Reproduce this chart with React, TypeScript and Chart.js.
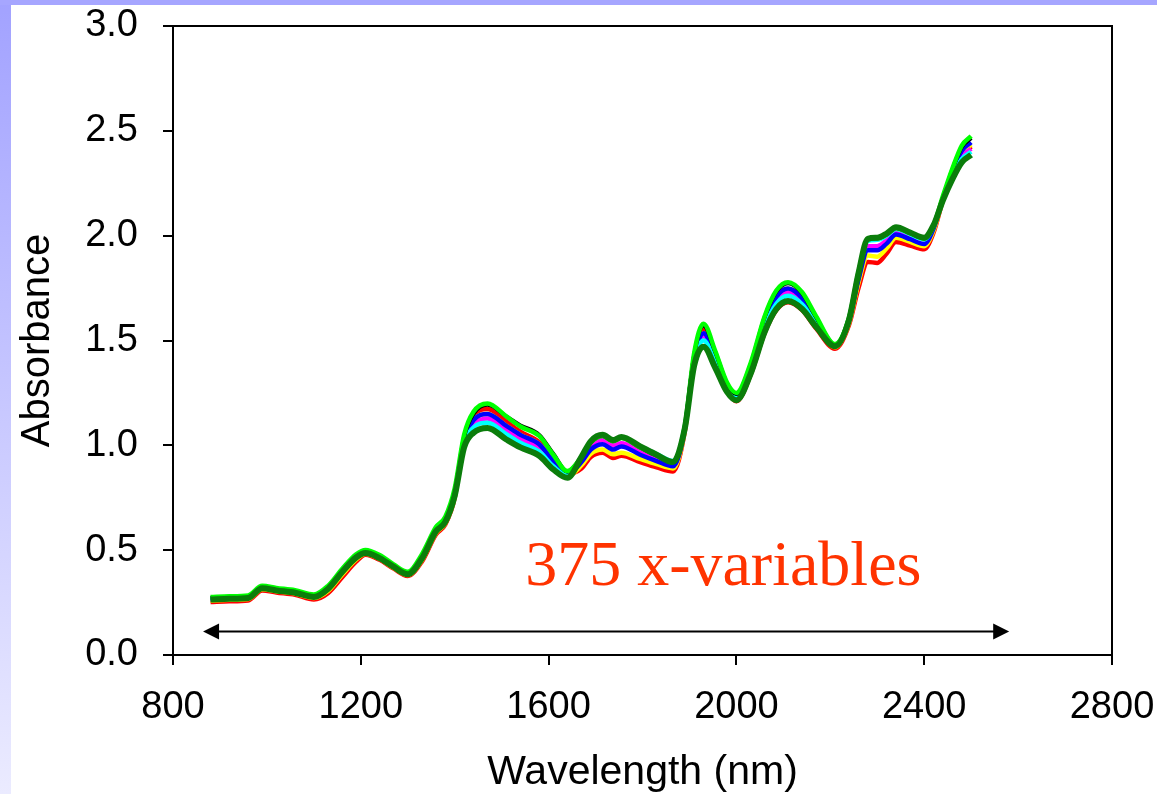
import React, { useEffect, useRef } from "react";
import { Chart, registerables } from "chart.js";

Chart.register(...registerables);

// ---- data -----------------------------------------------------------------
const WAVELENGTHS = [
  880, 920, 960, 990, 1020, 1060, 1100, 1130, 1160, 1190,
  1210, 1240, 1270, 1300, 1330, 1360, 1380, 1400, 1420, 1440,
  1470, 1510, 1540, 1580, 1610, 1640, 1670, 1690, 1715, 1737,
  1755, 1795, 1830, 1865, 1890, 1910, 1930, 1955, 1980, 2000,
  2030, 2060, 2085, 2110, 2140, 2170, 2210, 2240, 2260, 2280,
  2300, 2320, 2340, 2370, 2400, 2420, 2440, 2460, 2480, 2500,
];

const ABS_DARKGREEN = [
  0.265, 0.268, 0.272, 0.318, 0.308, 0.297, 0.277, 0.315, 0.395, 0.465,
  0.486, 0.462, 0.420, 0.385, 0.460, 0.590, 0.635, 0.760, 0.990, 1.060,
  1.083, 1.028, 0.990, 0.950, 0.885, 0.845, 0.945, 1.020, 1.050, 1.025,
  1.040, 0.995, 0.955, 0.920, 1.080, 1.380, 1.470, 1.370, 1.255, 1.215,
  1.340, 1.540, 1.650, 1.688, 1.650, 1.565, 1.473, 1.600, 1.820, 1.985,
  1.990, 2.010, 2.040, 2.015, 1.990, 2.050, 2.170, 2.270, 2.350, 2.385,
];

const ABS_LIME = [
  0.277, 0.280, 0.284, 0.330, 0.320, 0.309, 0.289, 0.330, 0.410, 0.480,
  0.501, 0.477, 0.432, 0.397, 0.480, 0.610, 0.660, 0.795, 1.050, 1.160,
  1.200, 1.138, 1.090, 1.045, 0.955, 0.877, 0.945, 1.015, 1.045, 1.020,
  1.035, 0.990, 0.952, 0.920, 1.090, 1.440, 1.580, 1.450, 1.300, 1.250,
  1.390, 1.615, 1.738, 1.778, 1.730, 1.615, 1.483, 1.610, 1.825, 1.982,
  1.987, 2.007, 2.037, 2.012, 1.987, 2.050, 2.190, 2.320, 2.430, 2.475,
];

const ABS_BLACK = [
  0.273, 0.276, 0.280, 0.326, 0.316, 0.305, 0.285, 0.325, 0.405, 0.475,
  0.496, 0.472, 0.428, 0.393, 0.472, 0.602, 0.650, 0.785, 1.040, 1.150,
  1.193, 1.138, 1.095, 1.050, 0.960, 0.875, 0.943, 1.015, 1.045, 1.020,
  1.035, 0.990, 0.952, 0.920, 1.088, 1.430, 1.570, 1.445, 1.295, 1.245,
  1.385, 1.610, 1.733, 1.773, 1.725, 1.610, 1.481, 1.608, 1.823, 1.982,
  1.987, 2.007, 2.037, 2.012, 1.987, 2.050, 2.185, 2.315, 2.422, 2.465,
];

const ABS_CYAN = [
  0.268, 0.271, 0.275, 0.322, 0.312, 0.301, 0.280, 0.319, 0.399, 0.469,
  0.491, 0.467, 0.424, 0.389, 0.465, 0.595, 0.641, 0.770, 1.010, 1.085,
  1.108, 1.053, 1.012, 0.970, 0.900, 0.855, 0.945, 1.017, 1.047, 1.022,
  1.037, 0.995, 0.958, 0.925, 1.085, 1.400, 1.500, 1.395, 1.270, 1.225,
  1.355, 1.562, 1.675, 1.713, 1.672, 1.580, 1.478, 1.605, 1.820, 1.975,
  1.980, 2.000, 2.032, 2.007, 1.982, 2.045, 2.173, 2.280, 2.365, 2.400,
];

const ABS_BLUE = [
  0.270, 0.273, 0.277, 0.324, 0.314, 0.303, 0.282, 0.321, 0.401, 0.471,
  0.494, 0.470, 0.426, 0.391, 0.468, 0.598, 0.645, 0.775, 1.025, 1.120,
  1.150, 1.093, 1.050, 1.005, 0.925, 0.861, 0.920, 0.980, 1.005, 0.980,
  0.995, 0.955, 0.925, 0.900, 1.080, 1.415, 1.535, 1.420, 1.283, 1.235,
  1.370, 1.588, 1.708, 1.748, 1.702, 1.597, 1.478, 1.600, 1.790, 1.930,
  1.930, 1.962, 2.005, 1.983, 1.960, 2.035, 2.180, 2.305, 2.405, 2.445,
];

const ABS_MAGENTA = [
  0.265, 0.268, 0.272, 0.320, 0.310, 0.299, 0.277, 0.315, 0.393, 0.465,
  0.490, 0.466, 0.422, 0.387, 0.460, 0.590, 0.637, 0.765, 1.015, 1.100,
  1.128, 1.071, 1.030, 0.985, 0.910, 0.857, 0.930, 0.998, 1.025, 1.000,
  1.010, 0.970, 0.935, 0.905, 1.075, 1.405, 1.520, 1.408, 1.275, 1.230,
  1.362, 1.572, 1.690, 1.728, 1.685, 1.587, 1.473, 1.592, 1.800, 1.950,
  1.950, 1.978, 2.015, 1.993, 1.970, 2.038, 2.175, 2.288, 2.378, 2.415,
];

const ABS_YELLOW = [
  0.260, 0.263, 0.267, 0.314, 0.304, 0.293, 0.272, 0.305, 0.383, 0.455,
  0.483, 0.459, 0.416, 0.381, 0.452, 0.582, 0.629, 0.755, 1.025, 1.120,
  1.150, 1.093, 1.050, 1.005, 0.925, 0.853, 0.905, 0.960, 0.980, 0.957,
  0.965, 0.935, 0.910, 0.890, 1.070, 1.415, 1.535, 1.420, 1.270, 1.225,
  1.370, 1.588, 1.708, 1.748, 1.702, 1.580, 1.468, 1.585, 1.775, 1.905,
  1.900, 1.940, 1.990, 1.970, 1.950, 2.025, 2.175, 2.298, 2.395, 2.435,
];

const ABS_RED = [
  0.253, 0.256, 0.260, 0.308, 0.298, 0.287, 0.265, 0.295, 0.370, 0.445,
  0.478, 0.454, 0.412, 0.377, 0.445, 0.575, 0.623, 0.750, 1.030, 1.140,
  1.173, 1.113, 1.065, 1.015, 0.935, 0.863, 0.890, 0.945, 0.965, 0.940,
  0.950, 0.920, 0.895, 0.875, 1.065, 1.420, 1.550, 1.425, 1.265, 1.210,
  1.335, 1.535, 1.645, 1.683, 1.645, 1.557, 1.461, 1.575, 1.750, 1.875,
  1.870, 1.915, 1.970, 1.953, 1.935, 2.015, 2.170, 2.290, 2.382, 2.425,
];

const X_MIN = 800;
const X_MAX = 2800;
const X_STEP = 400;
const Y_MIN = 0;
const Y_MAX = 3;
const Y_STEP = 0.5;

const X_TITLE = "Wavelength (nm)";
const Y_TITLE = "Absorbance";

const NOTE_TEXT = "375 x-variables";
const NOTE_NM = 1550;
const NOTE_ABS = 0.334;

const ARROW_FROM_NM = 864;
const ARROW_TO_NM = 2581;
const ARROW_ABS = 0.115;

// ---- styling ----------------------------------------------------------------
const SANS = "'Liberation Sans', Arial, sans-serif";
const SERIF = "'Liberation Serif', 'Times New Roman', serif";

const SERIES = [
  { label: "s1", values: ABS_DARKGREEN, color: "#0b7d0b", width: 6 },
  { label: "s2", values: ABS_LIME, color: "#00ff00", width: 4.5 },
  { label: "s3", values: ABS_BLACK, color: "#000000", width: 4 },
  { label: "s4", values: ABS_CYAN, color: "#00ffff", width: 4.5 },
  { label: "s5", values: ABS_BLUE, color: "#0000ff", width: 4.5 },
  { label: "s6", values: ABS_MAGENTA, color: "#ff00ff", width: 4.5 },
  { label: "s7", values: ABS_YELLOW, color: "#ffff00", width: 4.5 },
  { label: "s8", values: ABS_RED, color: "#ff0000", width: 4.5 },
];

const decorPlugin = {
  id: "decor",
  afterDatasetsDraw(chart: any) {
    const { ctx, chartArea, scales } = chart;
    const xs = scales.x;
    const ys = scales.y;
    ctx.save();
    // note text
    ctx.fillStyle = "#ff3300";
    ctx.font = `64px ${SERIF}`;
    ctx.textAlign = "left";
    ctx.textBaseline = "alphabetic";
    ctx.fillText(NOTE_TEXT, xs.getPixelForValue(NOTE_NM), ys.getPixelForValue(NOTE_ABS));
    // double arrow
    const x1 = xs.getPixelForValue(ARROW_FROM_NM);
    const x2 = xs.getPixelForValue(ARROW_TO_NM);
    const y = Math.round(ys.getPixelForValue(ARROW_ABS)) + 0.5;
    const head = 16;
    const half = 8;
    ctx.strokeStyle = "#000";
    ctx.lineWidth = 2;
    ctx.beginPath();
    ctx.moveTo(x1 + head - 1, y);
    ctx.lineTo(x2 - head + 1, y);
    ctx.stroke();
    ctx.fillStyle = "#000";
    ctx.beginPath();
    ctx.moveTo(x1, y);
    ctx.lineTo(x1 + head, y - half);
    ctx.lineTo(x1 + head, y + half);
    ctx.closePath();
    ctx.fill();
    ctx.beginPath();
    ctx.moveTo(x2, y);
    ctx.lineTo(x2 - head, y - half);
    ctx.lineTo(x2 - head, y + half);
    ctx.closePath();
    ctx.fill();
    // frame
    ctx.lineWidth = 2;
    ctx.strokeStyle = "#000";
    ctx.strokeRect(chartArea.left, chartArea.top, chartArea.right - chartArea.left, chartArea.bottom - chartArea.top);
    ctx.restore();
  },
};

export default function App() {
  const ref = useRef<HTMLCanvasElement | null>(null);

  useEffect(() => {
    const canvas = ref.current;
    if (!canvas) return;
    const chart = new Chart(canvas, {
      type: "line",
      data: {
        datasets: SERIES.map((s) => ({
          label: s.label,
          data: WAVELENGTHS.map((w, i) => ({ x: w, y: s.values[i] })),
          borderColor: s.color,
          backgroundColor: s.color,
          borderWidth: s.width,
          pointRadius: 0,
          fill: false,
          cubicInterpolationMode: "monotone" as const,
        })),
      },
      options: {
        responsive: false,
        animation: false,
        events: [],
        layout: { padding: { top: 26, right: 45, left: 0, bottom: 0 } },
        plugins: {
          legend: { display: false },
          tooltip: { enabled: false },
          title: { display: false },
        },
        scales: {
          x: {
            type: "linear",
            min: X_MIN,
            max: X_MAX,
            afterFit: (scale: any) => {
              scale.height = 139;
              scale.paddingLeft = 0;
              scale.paddingRight = 0;
              scale.paddingTop = 0;
              scale.paddingBottom = 0;
            },
            ticks: {
              stepSize: X_STEP,
              color: "#000",
              padding: 20,
              font: { family: SANS, size: 38 },
              callback: (v: any) => String(v),
              maxRotation: 0,
              autoSkip: false,
            },
            grid: {
              drawOnChartArea: false,
              drawTicks: true,
              tickLength: 10,
              color: "#000",
              lineWidth: 2,
            },
            border: { display: true, color: "#000", width: 2 },
            title: {
              display: true,
              text: X_TITLE,
              color: "#000",
              font: { family: SANS, size: 41, lineHeight: 1 },
              padding: { top: 0, bottom: 1 },
            },
          },
          y: {
            type: "linear",
            min: Y_MIN,
            max: Y_MAX,
            afterFit: (scale: any) => {
              scale.width = 173;
              scale.paddingLeft = 0;
              scale.paddingRight = 0;
              scale.paddingTop = 0;
              scale.paddingBottom = 0;
            },
            ticks: {
              stepSize: Y_STEP,
              color: "#000",
              padding: 25,
              font: { family: SANS, size: 38 },
              callback: (v: any) => Number(v).toFixed(1),
            },
            grid: {
              drawOnChartArea: false,
              drawTicks: true,
              tickLength: 10,
              color: "#000",
              lineWidth: 2,
            },
            border: { display: true, color: "#000", width: 2 },
            title: {
              display: true,
              text: Y_TITLE,
              color: "#000",
              font: { family: SANS, size: 40, lineHeight: 1 },
              padding: { top: 18, bottom: 0 },
            },
          },
        },
      },
      plugins: [decorPlugin],
    });
    return () => chart.destroy();
  }, []);

  return (
    <div
      style={{
        position: "fixed",
        left: 0,
        top: 0,
        width: 1157,
        height: 794,
        overflow: "hidden",
        background: "linear-gradient(to bottom, #a2a2ff, #ebebff)",
      }}
    >
      <div style={{ position: "absolute", left: 11, top: 5, right: 0, bottom: 0, background: "#ffffff" }} />
      <div style={{ position: "absolute", left: 0, top: 0, right: 0, height: 5, background: "#a6a6ff" }} />
      <canvas ref={ref} width={1157} height={794} style={{ position: "absolute", left: 0, top: 0 }} />
    </div>
  );
}
